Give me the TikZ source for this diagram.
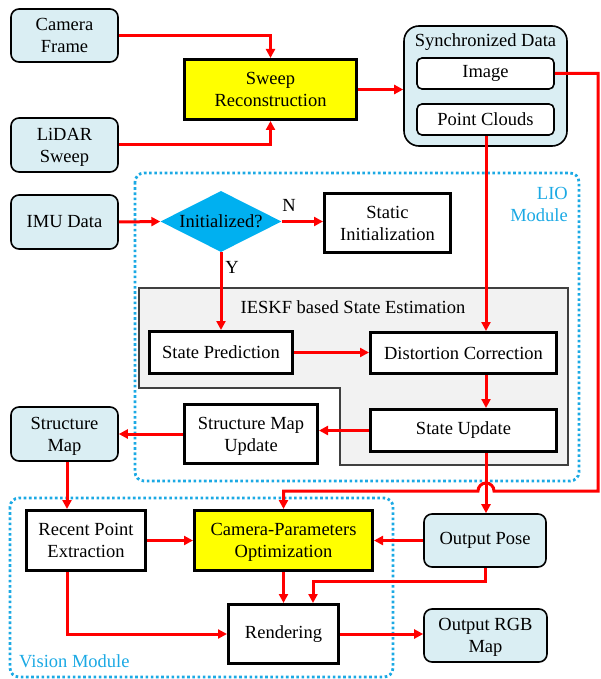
\documentclass[tikz,border=0pt]{standalone}
\usepackage{fontspec}
\setmainfont{Liberation Serif}
\usetikzlibrary{shapes.geometric,arrows.meta}
\definecolor{lb}{HTML}{DAEEF3}
\definecolor{yel}{HTML}{FFFF00}
\definecolor{cyanb}{HTML}{00B0F0}
\definecolor{dotblue}{HTML}{1BA9E4}
\definecolor{grayfill}{HTML}{F2F2F2}
\definecolor{grayline}{HTML}{404040}
\begin{document}
\begin{tikzpicture}[x=1pt,y=-1pt,
  font=\fontsize{18.5}{22}\selectfont,
  bluebox/.style={draw=black, line width=1.6pt, fill=lb, rounded corners=8pt, align=center, inner sep=0pt},
  innerbox/.style={draw=black, line width=1.6pt, fill=white, rounded corners=5pt, align=center, inner sep=0pt},
  wbox/.style={draw=black, line width=3pt, fill=white, align=center, inner sep=0pt},
  ybox/.style={wbox, fill=yel},
  ml/.style={text height=34.3pt, text depth=0pt},
  arr/.style={draw=red, line width=3pt, -{Triangle[length=9pt,width=9pt]}},
  dotbox/.style={draw=dotblue, line width=2.8pt, dash pattern=on 2.6pt off 2.6pt, rounded corners=9pt},
  lbl/.style={inner sep=0pt}
]
\useasboundingbox (0,0) rectangle (600,679);

% module frames
\draw[dotbox] (135,173) rectangle (579,481);
\draw[dotbox] (10,498) rectangle (393,677);
\node[lbl, ml, text=dotblue, align=right, anchor=east] (lio) at (568,204) {LIO\\Module};
\node[lbl, text=dotblue, anchor=west] (vis) at (19,661) {Vision Module};

% IESKF region
\draw[fill=grayfill, draw=grayline, line width=1.2pt]
  (139,288) -- (568,288) -- (568,465) -- (340,465) -- (340,388) -- (139,388) -- cycle;
\node[lbl] (ieskf) at (353,307) {IESKF based State Estimation};

% input nodes
\node[bluebox, ml, minimum width=107pt, minimum height=53pt] (cam) at (64.5,35.5) {Camera\\Frame};
\node[bluebox, ml, minimum width=107pt, minimum height=54pt] (lidar) at (64.5,145) {LiDAR\\Sweep};
\node[bluebox, minimum width=107pt, minimum height=54pt] (imu) at (64.5,222) {IMU Data};
\node[bluebox, ml, minimum width=107pt, minimum height=54pt] (sm) at (64.5,434) {Structure\\Map};

\node[ybox, ml, minimum width=172pt, minimum height=60pt] (sweep) at (270.5,89.5) {Sweep\\Reconstruction};

\node[bluebox, rounded corners=15pt, minimum width=163pt, minimum height=120pt] (sync) at (485.5,86) {};
\node[lbl] (synct) at (485.5,42) {Synchronized Data};
\node[innerbox, minimum width=137pt, minimum height=31pt] (img) at (485.5,73.5) {Image};
\node[innerbox, minimum width=137pt, minimum height=31pt] (pc) at (485.5,119.5) {Point Clouds};

\node[diamond, fill=cyanb, inner sep=0pt, aspect=2, minimum width=121pt, minimum height=61pt] (dia) at (221,221.5) {};
\node[lbl] (diat) at (221,221) {Initialized?};
\node[wbox, ml, minimum width=126pt, minimum height=59pt] (static) at (387.5,223) {Static\\Initialization};
\node[lbl] (nlab) at (289,205) {N};
\node[lbl] (ylab) at (232,267) {Y};

\node[wbox, minimum width=143pt, minimum height=42pt] (sp) at (221,352.5) {State Prediction};
\node[wbox, minimum width=186pt, minimum height=41pt] (dc) at (463.5,353) {Distortion Correction};
\node[wbox, minimum width=186pt, minimum height=42pt] (su) at (463.5,430.5) {State Update};
\node[wbox, ml, minimum width=133pt, minimum height=59pt] (smu) at (251,434) {Structure Map\\Update};

\node[wbox, ml, minimum width=119pt, minimum height=60pt] (rpe) at (86,540.5) {Recent Point\\Extraction};
\node[ybox, ml, minimum width=178pt, minimum height=60pt] (cpo) at (283.5,540.5) {Camera-Parameters\\Optimization};
\node[bluebox, minimum width=122pt, minimum height=53pt] (op) at (485,540.5) {Output Pose};
\node[wbox, minimum width=110pt, minimum height=59pt] (rend) at (283.5,634) {Rendering};
\node[bluebox, ml, minimum width=123pt, minimum height=53pt] (orgb) at (485.5,635.5) {Output RGB\\Map};

% helper coordinates
\coordinate (vx) at (486,0);
\coordinate (lx) at (67,0);
\coordinate (rc) at (598,491);
\coordinate (hopr) at (494,491);
\coordinate (opturn) at (485,581);
\coordinate (rendin) at (313,0);

% connectors
\draw[arr] (cam.east) -| (sweep.north);
\draw[arr] (lidar.east) -| (sweep.south);
\draw[arr] (sweep.east) -- (sweep.east -| sync.west);
\draw[arr] (img.east) -| (rc) -- (hopr) arc[start angle=0, end angle=180, radius=8pt] -- (cpo.north |- rc) -- (cpo.north);
\draw[arr] (vx |- pc.south) -- (vx |- dc.north);
\draw[arr] (imu.east) -- (dia.west);
\draw[arr] (dia.east) -- (dia.east -| static.west);
\draw[arr] (dia.south) -- (dia.south |- sp.north);
\draw[arr] (sp.east) -- (sp.east -| dc.west);
\draw[arr] (vx |- dc.south) -- (vx |- su.north);
\draw[arr] (su.west) -- (su.west -| smu.east);
\draw[arr] (smu.west) -- (smu.west -| sm.east);
\draw[arr] (lx |- sm.south) -- (lx |- rpe.north);
\draw[arr] (vx |- su.south) -- (vx |- op.north);
\draw[arr] (rpe.east) -- (cpo.west);
\draw[arr] (op.west) -- (cpo.east);
\draw[arr] (cpo.south) -- (rend.north);
\draw[arr] (op.south) -- (opturn) -| (rendin |- rend.north);
\draw[arr] (lx |- rpe.south) |- (rend.west);
\draw[arr] (rend.east) -- (rend.east -| orgb.west);
\end{tikzpicture}
\end{document}
